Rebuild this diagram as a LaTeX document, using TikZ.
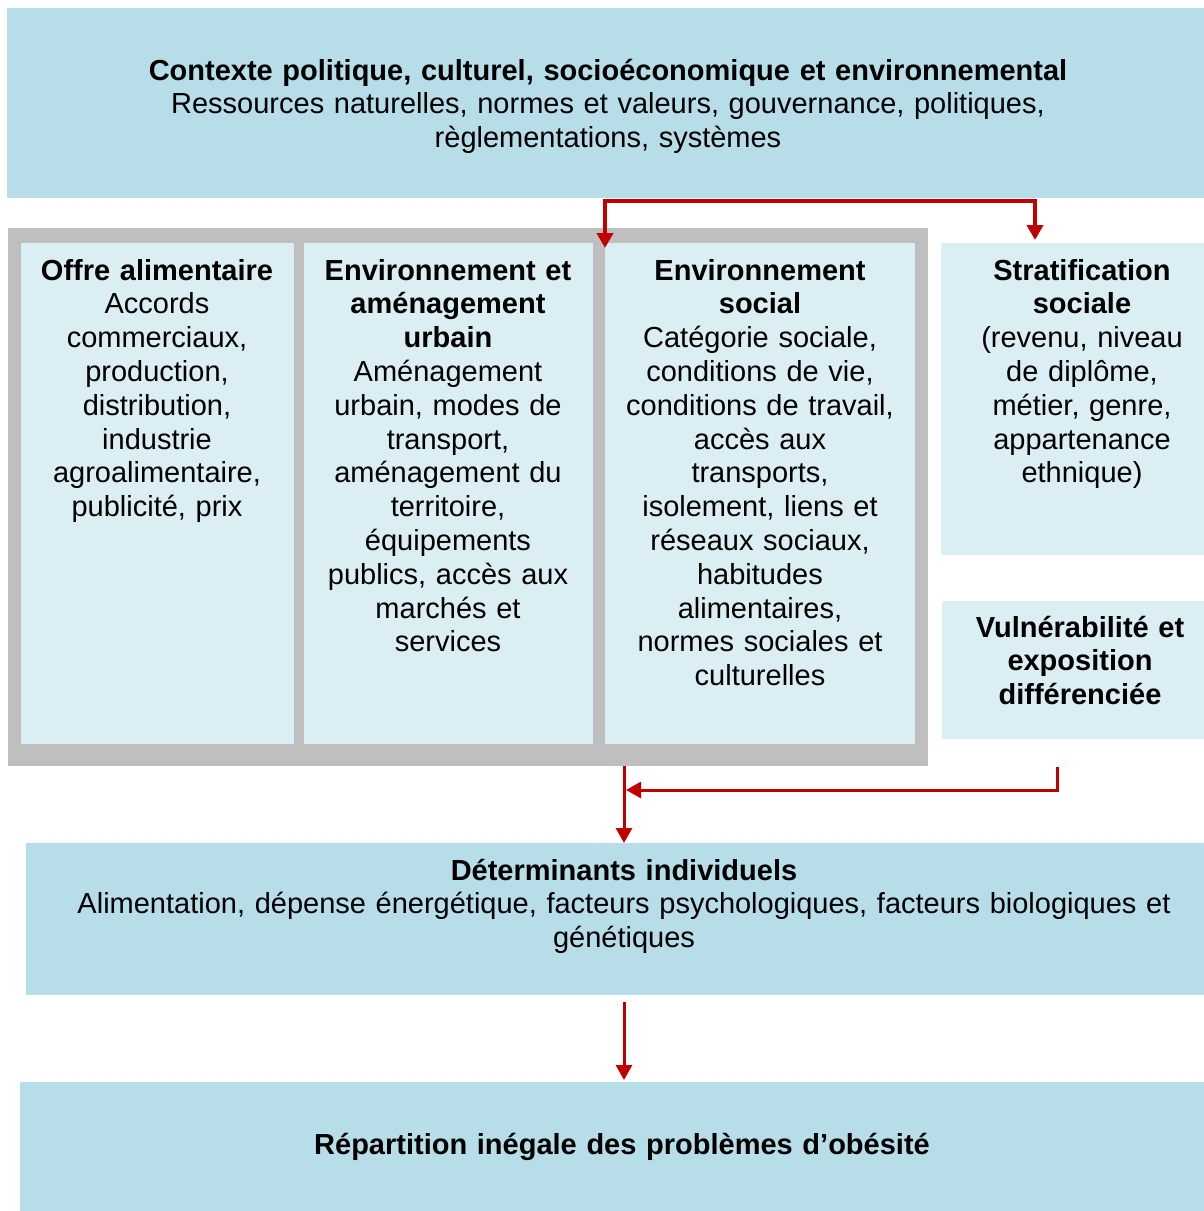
\documentclass[tikz,border=0pt]{standalone}
\usepackage{fontspec}
\setmainfont{Liberation Sans}
\usetikzlibrary{arrows.meta,calc}
\definecolor{bluedark}{HTML}{B6DDE8}
\definecolor{bluelight}{HTML}{DAEEF3}
\definecolor{framegray}{HTML}{BFBFBF}
\definecolor{arrred}{HTML}{C00000}
\begin{document}
\begin{tikzpicture}[x=0.5pt,y=-0.5pt,
  box/.style={anchor=north west, inner sep=0pt, outer sep=0pt},
  darkbox/.style={box, fill=bluedark},
  lightbox/.style={box, fill=bluelight},
  txt/.style={anchor=base, align=center, inner sep=0pt, font=\fontsize{14.5pt}{16.9pt}\selectfont},
  arr/.style={draw=arrred, line width=1.5pt, -{Triangle[width=8pt,length=7.5pt]}},
  arrthick/.style={arr, line width=2pt}
]
\path[use as bounding box] (0,0) rectangle (1204,1211);

% boxes
\node[darkbox, minimum width=598.5pt, minimum height=95pt] (ctx) at (7,8) {};
\node[box, fill=framegray, minimum width=460pt, minimum height=269pt] (frame) at (8,228) {};
\node[lightbox, minimum width=136.5pt, minimum height=250.5pt] (offre) at (21,243) {};
\node[lightbox, minimum width=144.5pt, minimum height=250.5pt] (urb) at (304,243) {};
\node[lightbox, minimum width=155pt, minimum height=250.5pt] (soc) at (605,243) {};
\node[lightbox, minimum width=131.5pt, minimum height=156pt] (strat) at (941,243) {};
\node[lightbox, minimum width=131pt, minimum height=69pt] (vuln) at (942,601) {};
\node[darkbox, minimum width=589pt, minimum height=76pt] (det) at (26,843) {};
\node[darkbox, minimum width=592pt, minimum height=64.5pt] (rep) at (20,1082) {};

% texts
\node[txt, text width=595pt] (ctx-t) at (608,80) {\textbf{Contexte politique, culturel, socioéconomique et environnemental}\\Ressources naturelles, normes et valeurs, gouvernance, politiques,\\règlementations, systèmes};
\node[txt, text width=145pt] (offre-t) at (157,280) {\textbf{Offre alimentaire}\\Accords\\commerciaux,\\production,\\distribution,\\industrie\\agroalimentaire,\\publicité, prix};
\node[txt, text width=155pt] (urb-t) at (448,280) {\textbf{Environnement et}\\\textbf{aménagement}\\\textbf{urbain}\\Aménagement\\urbain, modes de\\transport,\\aménagement du\\territoire,\\équipements\\publics, accès aux\\marchés et\\services};
\node[txt, text width=165pt] (soc-t) at (760,280) {\textbf{Environnement}\\\textbf{social}\\Catégorie sociale,\\conditions de vie,\\conditions de travail,\\accès aux\\transports,\\isolement, liens et\\réseaux sociaux,\\habitudes\\alimentaires,\\normes sociales et\\culturelles};
\node[txt, text width=140pt] (strat-t) at (1082,280) {\textbf{Stratification}\\\textbf{sociale}\\(revenu, niveau\\de diplôme,\\métier, genre,\\appartenance\\ethnique)};
\node[txt, text width=140pt] (vuln-t) at (1080,637) {\textbf{Vulnérabilité et}\\\textbf{exposition}\\\textbf{différenciée}};
\node[txt, text width=595pt] (det-t) at (624,880) {\textbf{Déterminants individuels}\\Alimentation, dépense énergétique, facteurs psychologiques, facteurs biologiques et\\génétiques};
\node[txt, text width=595pt] (rep-t) at (622,1154) {\textbf{Répartition inégale des problèmes d’obésité}};

% connectors
\coordinate (split) at ($(ctx.south -| soc.west)+(0,3)$);
\draw[arrthick] (split) -- ($(soc.north west)+(0,5)$);
\draw[arrthick, shorten <=-1pt] (split) -| ($(strat.north)+(-37.5,-3)$);
\coordinate (m) at (624,766);
\draw[arr] (frame.south -| m) -- (det.north -| m);
\draw[arr] ($(vuln.south)+(-16,28)$) |- ($(m)+(2,24)$);
\draw[arr] ($(det.south -| m)+(0,7)$) -- ($(rep.north -| m)+(0,-2)$);
\end{tikzpicture}
\end{document}
